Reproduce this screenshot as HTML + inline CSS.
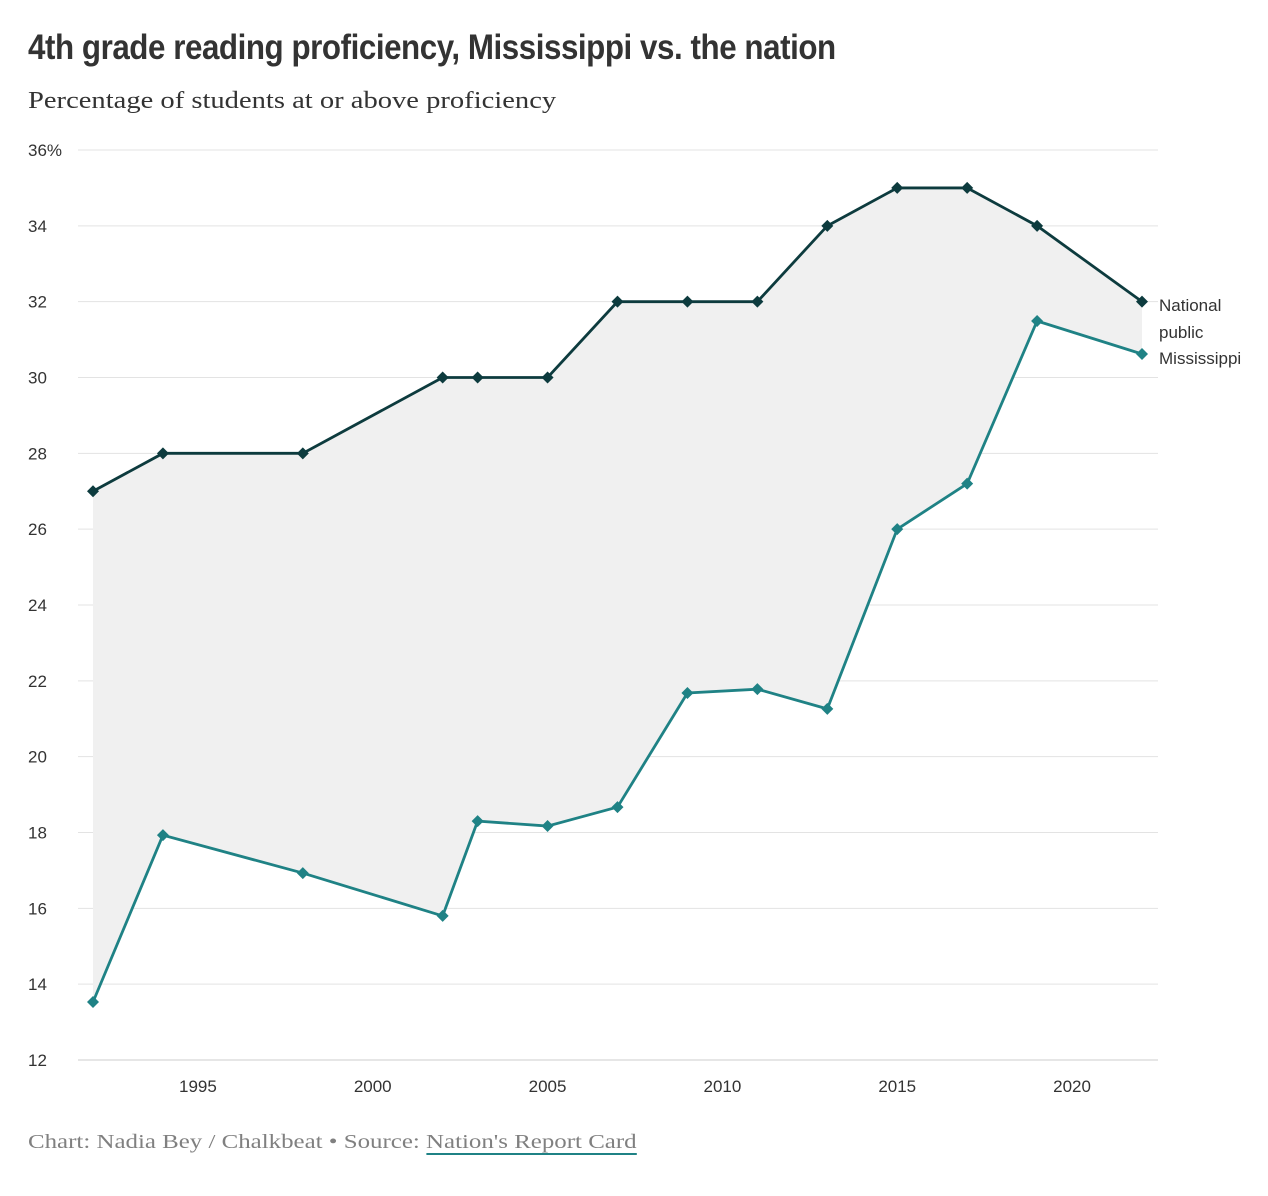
<!DOCTYPE html>
<html><head><meta charset="utf-8">
<style>
html,body{margin:0;padding:0;background:#fff;}
body{width:1268px;height:1196px;position:relative;overflow:hidden;}
.title{position:absolute;left:28px;top:28px;font-family:"Liberation Sans Narrow","Liberation Sans",sans-serif;font-weight:bold;font-size:35px;color:#333;letter-spacing:-0.5px;transform:scaleX(0.895);transform-origin:left top;white-space:nowrap;}
.sub{position:absolute;left:28px;top:88px;font-family:"Liberation Serif",serif;font-size:24px;color:#333;transform:scaleX(1.19);transform-origin:left top;white-space:nowrap;}
.foot{position:absolute;left:28px;top:1131px;font-family:"Liberation Serif",serif;font-size:20px;color:#808080;transform:scaleX(1.245);transform-origin:left top;white-space:nowrap;}
.foot a{color:#808080;text-decoration:none;border-bottom:2px solid #1f8285;}
svg{position:absolute;left:0;top:0;}
svg text{font-family:"Liberation Sans Narrow","Liberation Sans",sans-serif;fill:#333;font-size:17px;}
</style></head><body>
<div class="title">4th grade reading proficiency, Mississippi vs. the nation</div>
<div class="sub">Percentage of students at or above proficiency</div>
<svg id="chart" width="1268" height="1196"></svg>
<div class="foot">Chart: Nadia Bey / Chalkbeat • Source: <a>Nation's Report Card</a></div>
<script>
const years=[1992,1994,1998,2002,2003,2005,2007,2009,2011,2013,2015,2017,2019,2022];
const national=[27,28,28,30,30,30,32,32,32,34,35,35,34,32];
const mississippi=[13.53,17.93,16.93,15.8,18.3,18.17,18.67,21.68,21.78,21.26,26.0,27.2,31.49,30.62];
const yTicks=[12,14,16,18,20,22,24,26,28,30,32,34,36];
const xTicks=[1995,2000,2005,2010,2015,2020];
const NS="http://www.w3.org/2000/svg";
const svg=document.getElementById('chart');
const x=v=>93+(v-1992)*(1142-93)/30;
const y=v=>1060-(v-12)*(910/24);
function mk(t,a){const e=document.createElementNS(NS,t);for(const k in a)e.setAttribute(k,a[k]);svg.appendChild(e);return e;}
yTicks.forEach(t=>{
 const l=mk('line',{x1:78,x2:1158,y1:y(t),y2:y(t),stroke:t===12?'#ccc':'#e3e3e3','stroke-width':1});
 
 
 const tx=mk('text',{x:28,y:y(t)+6});
 tx.textContent=t===36?'36%':t;
 
 
});
xTicks.forEach(t=>{
 const tx=mk('text',{x:x(t),y:1092,'text-anchor':'middle'});
 tx.textContent=t;
 
 
});
let d=years.map((yr,i)=>(i?'L':'M')+x(yr)+','+y(national[i])).join('');
for(let i=years.length-1;i>=0;i--)d+='L'+x(years[i])+','+y(mississippi[i]);
const area=mk('path',{d:d+'Z',fill:'#f0f0f0'});


function series(vals,color,name){
 const p=mk('path',{d:years.map((yr,i)=>(i?'L':'M')+x(yr)+','+y(vals[i])).join(''),fill:'none',stroke:color,'stroke-width':2.8});
 
 
 years.forEach((yr,i)=>{
  const cx=x(yr),cy=y(vals[i]),r=6;
  const m=mk('path',{d:`M${cx},${cy-r}L${cx+r},${cy}L${cx},${cy+r}L${cx-r},${cy}Z`,fill:color});
  
  
 });
}
series(national,'#0d3b3e','national');
series(mississippi,'#1f8285','mississippi');
[['National',311],['public',338],['Mississippi',364]].forEach(([s,yy])=>{
 const t=mk('text',{x:1159,y:yy,'font-size':'19'});
 t.textContent=s;
 
 
});
</script>
</body></html>
